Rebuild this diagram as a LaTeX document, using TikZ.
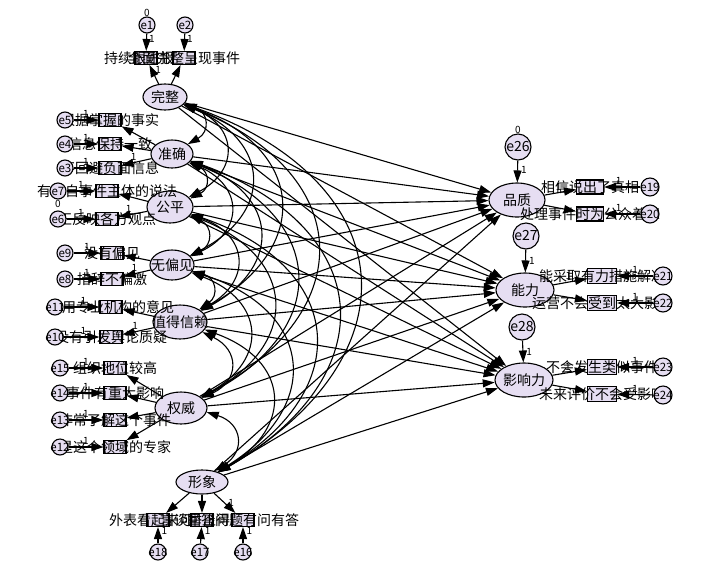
\documentclass[tikz,border=0pt]{standalone}
\usepackage{fontspec}
\setmainfont{Noto Sans CJK SC}
\usetikzlibrary{arrows.meta,shapes.geometric}
\definecolor{lav}{RGB}{230,222,242}
\pgfdeclarelayer{bg}
\pgfsetlayers{bg,main}
\begin{document}
\begin{tikzpicture}[x=1pt,y=-1pt,
 lat/.style={ellipse,draw=black,line width=1.1pt,fill=lav,inner sep=0pt},
 obs/.style={rectangle,draw=black,line width=1.1pt,fill=lav,inner sep=0pt,minimum width=22pt,minimum height=13pt},
 obsr/.style={rectangle,draw=black,line width=1.1pt,fill=lav,inner sep=0pt,minimum width=29pt,minimum height=15pt},
 err/.style={circle,draw=black,line width=1.1pt,fill=lav,inner sep=0pt,minimum size=16pt},
 errm/.style={circle,draw=black,line width=1.1pt,fill=lav,inner sep=0pt,minimum size=18pt},
 errb/.style={circle,draw=black,line width=1.1pt,fill=lav,inner sep=0pt,minimum size=26pt},
 txt/.style={font=\fontsize{14}{14}\selectfont,inner sep=0pt,text=black},
 etxt/.style={font=\fontsize{11.5}{11.5}\selectfont,inner sep=0pt},
 btxt/.style={font=\fontsize{14}{14}\selectfont,inner sep=0pt},
 one/.style={font=\fontsize{10}{10}\selectfont,inner sep=0pt},
 arr/.style={-{Triangle[length=12pt,width=8pt]},line width=1.1pt},
 cov/.style={{Triangle[length=12pt,width=8pt]}-{Triangle[length=12pt,width=8pt]},line width=1.1pt},
]
\begin{pgfonlayer}{bg}
\fill[white] (0,0) rectangle (717,582);
\end{pgfonlayer}
\useasboundingbox (0,0) rectangle (717,582);

% ---- exogenous latents
\node[lat,minimum width=44pt,minimum height=26pt,label={[txt]center:完整}] (wz) at (165,97) {};
\node[lat,minimum width=42pt,minimum height=28pt,label={[txt]center:准确}] (zq) at (172,154) {};
\node[lat,minimum width=46pt,minimum height=32pt,label={[txt]center:公平}] (gp) at (170,207) {};
\node[lat,minimum width=44pt,minimum height=30pt,label={[txt]center:无偏见}] (wp) at (172,265) {};
\node[lat,minimum width=54pt,minimum height=34pt,label={[txt]center:值得信赖}] (zd) at (180,322) {};
\node[lat,minimum width=52pt,minimum height=32pt,label={[txt]center:权威}] (qw) at (181,408) {};
\node[lat,minimum width=52pt,minimum height=24pt,label={[txt]center:形象}] (xx) at (202,482) {};

% ---- endogenous latents
\node[lat,minimum width=56pt,minimum height=34pt,label={[txt]center:品质}] (pz) at (517,200) {};
\node[lat,minimum width=58pt,minimum height=34pt,label={[txt]center:能力}] (nl) at (525,290) {};
\node[lat,minimum width=58pt,minimum height=34pt,label={[txt]center:影响力}] (yx) at (524,380) {};
\node[errb,label={[btxt]center:e26},label={[one]above=5pt:0}] (e26) at (518,147) {};
\node[errb,label={[btxt]center:e27}] (e27) at (526,236) {};
\node[errb,label={[btxt]center:e28}] (e28) at (522,327) {};

% ---- 完整 indicators
\node[obs,label={[txt]center:持续跟进报道}] (b1) at (146,58) {};
\node[obs,label={[txt]center:全面完整呈现事件}] (b2) at (184,58) {};
\node[err,label={[etxt]center:e1},label={[one]above=4pt:0}] (e1) at (147,25) {};
\node[err,label={[etxt]center:e2}] (e2) at (185,25) {};

% ---- 准确 indicators
\node[obs,label={[txt]center:根据掌握的事实}] (b5) at (110,120) {};
\node[obs,label={[txt]center:信息保持一致}] (b4) at (110,144) {};
\node[obs,label={[txt]center:不回避负面信息}] (b3) at (110,168) {};
\node[err,label={[etxt]center:e5}] (e5) at (65,120) {};
\node[err,label={[etxt]center:e4}] (e4) at (65,144) {};
\node[err,label={[etxt]center:e3}] (e3) at (65,168) {};

% ---- 公平 indicators
\node[obs,label={[txt]center:有来自事件主体的说法}] (b7) at (107,191) {};
\node[obs,label={[txt]center:正反映各方观点}] (b6) at (107,219) {};
\node[err,label={[etxt]center:e7},label={[one]below=3pt:0}] (e7) at (58,191) {};
\node[err,label={[etxt]center:e6}] (e6) at (58,219) {};

% ---- 无偏见 indicators
\node[obs,label={[txt]center:没有偏见}] (b9) at (112,253) {};
\node[obs,label={[txt]center:措辞不偏激}] (b8) at (112,279) {};
\node[err,label={[etxt]center:e9}] (e9) at (65,253) {};
\node[err,label={[etxt]center:e8}] (e8) at (65,279) {};

% ---- 值得信赖 indicators
\node[obs,label={[txt]center:引用专业机构的意见}] (b11) at (111,307) {};
\node[obs,label={[txt]center:没有引发舆论质疑}] (b10) at (111,337) {};
\node[err,label={[etxt]center:e11}] (e11) at (55,307) {};
\node[err,label={[etxt]center:e10}] (e10) at (55,337) {};

% ---- 权威 indicators
\node[obs,label={[txt]center:组织地位较高}] (b15) at (115,368) {};
\node[obs,label={[txt]center:事件有重大影响}] (b14) at (115,393) {};
\node[obs,label={[txt]center:非常了解这个事件}] (b13) at (115,420) {};
\node[obs,label={[txt]center:是这个领域的专家}] (b12) at (115,447) {};
\node[err,label={[etxt]center:e15}] (e15) at (60,368) {};
\node[err,label={[etxt]center:e14}] (e14) at (60,393) {};
\node[err,label={[etxt]center:e13}] (e13) at (60,420) {};
\node[err,label={[etxt]center:e12}] (e12) at (60,447) {};

% ---- 形象 indicators
\node[obs,label={[txt]center:外表看起来可靠}] (b18) at (158,520) {};
\node[obs,label={[txt]center:言谈举止得体}] (b17) at (202,520) {};
\node[obs,label={[txt]center:回答问题有问有答}] (b16) at (243,520) {};
\node[err,label={[etxt]center:e18}] (e18) at (158,552) {};
\node[err,label={[etxt]center:e17}] (e17) at (200,552) {};
\node[err,label={[etxt]center:e16}] (e16) at (243,552) {};

% ---- right indicators
\node[obsr,minimum width=27pt,minimum height=14pt,label={[txt]center:相信说出了真相}] (r19) at (590,187) {};
\node[obsr,minimum width=27pt,minimum height=14pt,label={[txt]center:处理事件时为公众着想}] (r20) at (590,214) {};
\node[obsr,label={[txt]center:能采取有力措施解决}] (r21) at (602,276) {};
\node[obsr,label={[txt]center:运营不会受到太大影响}] (r22) at (602,303) {};
\node[obsr,label={[txt]center:不会发生类似事件}] (r23) at (602,367) {};
\node[obsr,label={[txt]center:未来评价不会受影响}] (r24) at (602,394) {};
\node[errm,label={[etxt]center:e19}] (e19) at (650,187) {};
\node[errm,label={[etxt]center:e20}] (e20) at (650,214) {};
\node[errm,label={[etxt]center:e21}] (e21) at (663,276) {};
\node[errm,label={[etxt]center:e22}] (e22) at (663,303) {};
\node[errm,label={[etxt]center:e23}] (e23) at (663,367) {};
\node[errm,label={[etxt]center:e24}] (e24) at (663,395) {};

\begin{pgfonlayer}{bg}
% covariances
\foreach \a/\b in {wz/zq,wz/gp,wz/wp,wz/zd,wz/qw,wz/xx,zq/gp,zq/wp,zq/zd,zq/qw,zq/xx,gp/wp,gp/zd,gp/qw,gp/xx,wp/zd,wp/qw,wp/xx,zd/qw,zd/xx,qw/xx}
  \draw[cov] (\a) to[bend left=65,looseness=1.6] (\b);
% structural paths
\foreach \a in {wz,zq,gp,wp,zd,qw,xx}
  \foreach \b in {pz,nl,yx}
    \draw[arr] (\a) -- (\b);
% disturbances
\draw[arr] (e26) -- node[one,right=3pt,pos=.45]{1} (pz);
\draw[arr] (e27) -- node[one,right=3pt,pos=.5]{1} (nl);
\draw[arr] (e28) -- node[one,right=3pt,pos=.5]{1} (yx);
% 完整
\draw[arr] (e1) -- node[one,right=2pt,pos=.3]{1} (b1);
\draw[arr] (e2) -- node[one,right=2pt,pos=.3]{1} (b2);
\draw[arr] (wz) -- node[one,right=3pt,pos=.75]{1} (b1);
\draw[arr] (wz) -- (b2);
% 准确
\draw[arr] (e5) -- node[one,above=2pt,pos=.5]{1} (b5);
\draw[arr] (e4) -- node[one,above=2pt,pos=.5]{1} (b4);
\draw[arr] (e3) -- node[one,above=2pt,pos=.5]{1} (b3);
\draw[arr] (zq) -- (b5);
\draw[arr] (zq) -- (b4);
\draw[arr] (zq) -- node[one,above=2pt,pos=.6]{1} (b3);
% 公平
\draw[arr] (e7) -- node[one,above=2pt,pos=.5]{1} (b7);
\draw[arr] (e6) -- node[one,above=2pt,pos=.5]{1} (b6);
\draw[arr] (gp) -- (b7);
\draw[arr] (gp) -- node[one,above=2pt,pos=.65]{1} (b6);
% 无偏见
\draw[arr] (e9) -- node[one,above=2pt,pos=.5]{1} (b9);
\draw[arr] (e8) -- node[one,above=2pt,pos=.5]{1} (b8);
\draw[arr] (wp) -- (b9);
\draw[arr] (wp) -- node[one,above=2pt,pos=.6]{1} (b8);
% 值得信赖
\draw[arr] (e11) -- node[one,above=2pt,pos=.55]{1} (b11);
\draw[arr] (e10) -- node[one,above=2pt,pos=.55]{1} (b10);
\draw[arr] (zd) -- (b11);
\draw[arr] (zd) -- node[one,above=2pt,pos=.6]{1} (b10);
% 权威
\draw[arr] (e15) -- node[one,above=2pt,pos=.5]{1} (b15);
\draw[arr] (e14) -- node[one,above=2pt,pos=.5]{1} (b14);
\draw[arr] (e13) -- node[one,above=2pt,pos=.5]{1} (b13);
\draw[arr] (e12) -- node[one,above=2pt,pos=.5]{1} (b12);
\draw[arr] (qw) -- (b15);
\draw[arr] (qw) -- (b14);
\draw[arr] (qw) -- (b13);
\draw[arr] (qw) -- (b12);
% 形象
\draw[arr] (xx) -- (b18);
\draw[arr] (xx) -- (b17);
\draw[arr] (xx) -- node[one,right=3pt,pos=.5]{1} (b16);
\draw[arr] (e18) -- node[one,right=3pt,pos=.75]{1} (b18);
\draw[arr] (e17) -- node[one,right=3pt,pos=.75]{1} (b17);
\draw[arr] (e16) -- node[one,right=3pt,pos=.75]{1} (b16);
% right measurement
\draw[arr] (pz) -- node[one,above=2pt,pos=.45]{1} (r19);
\draw[arr] (pz) -- (r20);
\draw[arr] (e19) -- node[one,above=2pt,pos=.6]{1} (r19);
\draw[arr] (e20) -- node[one,above=2pt,pos=.6]{1} (r20);
\draw[arr] (nl) -- node[one,above=2pt,pos=.45]{1} (r21);
\draw[arr] (nl) -- (r22);
\draw[arr] (e21) -- node[one,above=2pt,pos=.5]{1} (r21);
\draw[arr] (e22) -- node[one,above=2pt,pos=.5]{1} (r22);
\draw[arr] (yx) -- node[one,above=2pt,pos=.45]{1} (r23);
\draw[arr] (yx) -- (r24);
\draw[arr] (e23) -- node[one,above=2pt,pos=.5]{1} (r23);
\draw[arr] (e24) -- node[one,above=2pt,pos=.5]{1} (r24);
\end{pgfonlayer}
\end{tikzpicture}
\end{document}
